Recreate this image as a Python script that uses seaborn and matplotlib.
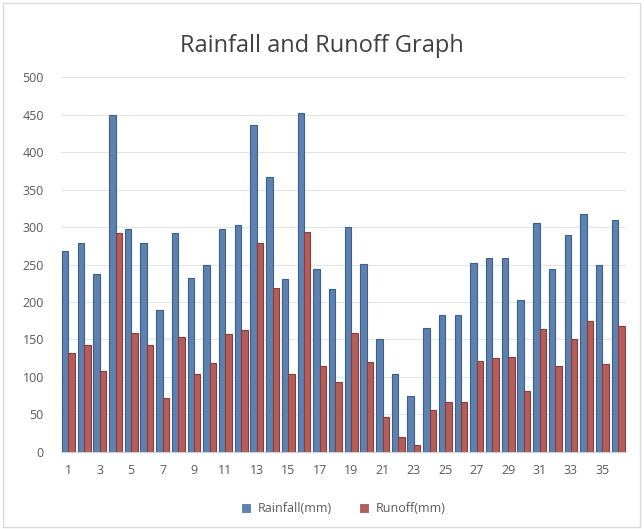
import seaborn as sns
import matplotlib.pyplot as plt
import pandas as pd
from matplotlib.patches import Rectangle

periods = [str(i) for i in range(1, 37)]
rainfall = [268, 279, 237, 450, 298, 279, 189, 292, 232, 250, 297, 303,
            436, 367, 231, 452, 244, 217, 300, 251, 150, 104, 74, 165,
            183, 182, 252, 259, 259, 202, 306, 244, 290, 318, 249, 310]
runoff = [132, 142, 108, 292, 158, 142, 72, 153, 104, 119, 157, 162,
          279, 218, 104, 294, 114, 93, 159, 120, 46, 20, 9, 56,
          67, 67, 121, 125, 126, 81, 164, 114, 151, 175, 117, 168]
series = ["Rainfall(mm)", "Runoff(mm)"]

df = pd.DataFrame({"period": periods * 2,
                   "value": rainfall + runoff,
                   "series": [series[0]] * len(periods) + [series[1]] * len(periods)})

sns.set_style("white")
plt.rcParams["font.family"] = ["Open Sans", "DejaVu Sans"]

fig = plt.figure(figsize=(6.44, 5.29), dpi=100)
ax = fig.add_axes([0.094, 0.146, 0.878, 0.708])

colors = {"Rainfall(mm)": "#4f81bd", "Runoff(mm)": "#c0504d"}
sns.barplot(data=df, x="period", y="value", hue="series", palette=colors,
            width=0.82, gap=0.0, linewidth=0.8, ax=ax)
for bars, ec in zip(ax.containers, ["#3a5f8c", "#8e3a38"]):
    for b in bars:
        b.set_edgecolor(ec)

ax.set_ylim(0, 500)
ax.set_xlim(-0.5, 35.5)
ax.set_yticks(range(0, 501, 50))
ax.set_xticks(range(0, 36, 2))
ax.set_xticklabels(periods[::2])
ax.yaxis.grid(True, color="#e4e4e4", linewidth=0.8)
ax.set_axisbelow(True)
for s in ["top", "right", "left"]:
    ax.spines[s].set_visible(False)
ax.spines["bottom"].set_color("#d0d0d0")
ax.tick_params(axis="both", length=0, labelsize=9, labelcolor="#595959")
ax.tick_params(axis="y", pad=12)
ax.tick_params(axis="x", pad=9)
ax.set_xlabel("")
ax.set_ylabel("")

fig.text(0.5, 0.913, "Rainfall and Runoff Graph", ha="center", va="center",
         fontsize=17, color="#404040")

ax.legend(loc="center", bbox_to_anchor=(0.5, -0.152), ncol=2, frameon=False,
          fontsize=9, labelcolor="#595959", handlelength=0.8, handleheight=0.8,
          columnspacing=2.2, handletextpad=0.5)

fig.patches.append(Rectangle((0.004, 0.004), 0.99, 0.99, transform=fig.transFigure,
                             fill=False, edgecolor="#d9d9d9", linewidth=1))

fig.savefig("out.png", dpi=100)
